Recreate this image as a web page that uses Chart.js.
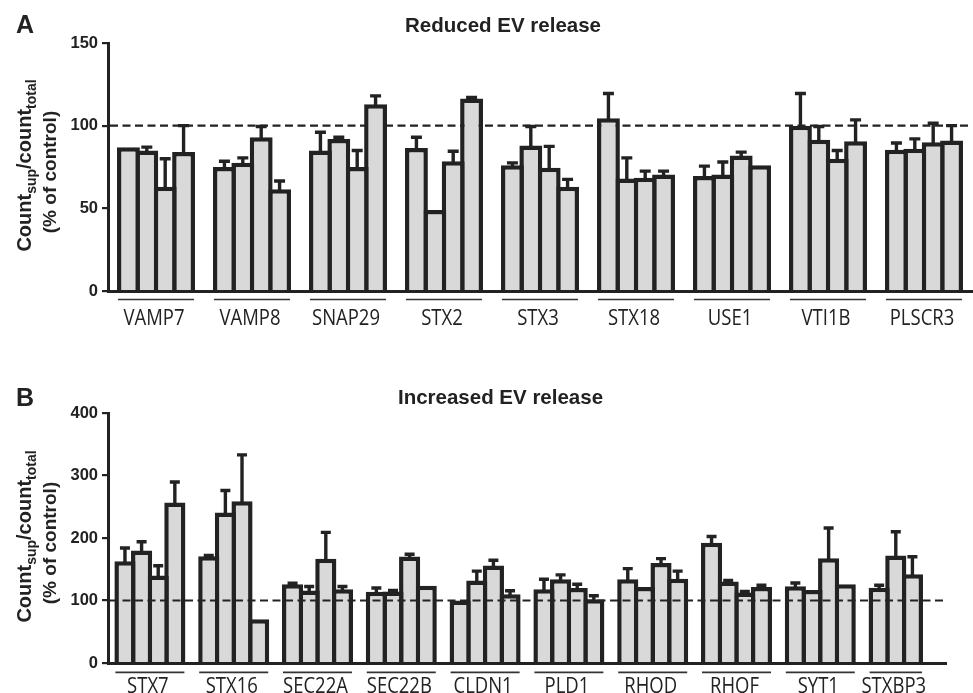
<!DOCTYPE html>
<html><head><meta charset="utf-8">
<script src="https://cdn.jsdelivr.net/npm/chart.js@4.4.1/dist/chart.umd.min.js"></script>
<style>
html,body{margin:0;padding:0;background:#fff;}
#wrap{position:relative;width:973px;height:693px;overflow:hidden;background:#fff;}
#cA{position:absolute;left:0;top:0;}
#cB{position:absolute;left:0;top:340px;}
</style></head><body>
<div id="wrap"><canvas id="cA" width="973" height="340"></canvas><canvas id="cB" width="973" height="353"></canvas></div>
<script>
// ---------- Panel A data ----------
const genesA = ['VAMP7','VAMP8','SNAP29','STX2','STX3','STX18','USE1','VTI1B','PLSCR3'];
const meanA1 = [87, 75, 85, 86.5, 76, 104.5, 69.5, 100, 85.5];
const meanA2 = [85, 77.5, 92, 49, 88, 68, 70.5, 91.5, 86];
const meanA3 = [63, 93, 75, 78.5, 74.5, 68.5, 82, 80, 90];
const meanA4 = [84, 61.5, 113, 116.5, 63, 70.5, 76, 90.5, 91];
const errA1 = [0, 3.5, 11, 6.5, 1.5, 15, 6, 19.5, 4];
const errA2 = [2, 3, 1, 0, 11.5, 12.5, 7.5, 8, 6];
const errA3 = [17, 6.5, 10, 6, 13, 4, 2, 5, 11.5];
const errA4 = [16, 5, 5, 0.5, 4.5, 2, 0, 13, 9];
const ticksA = [0, 50, 100, 150];
const titleA = 'Reduced EV release';

// ---------- Panel B data ----------
const genesB = ['STX7','STX16','SEC22A','SEC22B','CLDN1','PLD1','RHOD','RHOF','SYT1','STXBP3'];
const meanB1 = [163, 171, 126, 114, 100, 118, 134, 192.5, 123, 120.5];
const meanB2 = [180, 241, 116, 114.5, 132, 134, 121.5, 130.5, 117, 172];
const meanB3 = [140, 259, 167, 170.5, 156, 120, 160, 113, 167.5, 142];
const meanB4 = [257, 70, 118, 123.5, 110, 102, 135, 121.5, 126, null];
const errB1 = [21, 1, 1.5, 6, 0, 16, 17, 10, 5, 4];
const errB2 = [14, 35, 6.5, 1.5, 15, 7, 0, 1.5, 0, 38];
const errB3 = [15.5, 74, 42, 3.5, 8.5, 6, 7, 1.5, 48.5, 28];
const errB4 = [32.5, 0, 4.5, 0, 5.5, 5.5, 12, 3, 0, null];
const ticksB = [0, 100, 200, 300, 400];
const titleB = 'Increased EV release';

const refLine = 100;

const INK = '#222222';
const FILL = '#d9d9d9';

function decoPlugin(cfg) {
  function dashed(chart) {
    const {ctx, chartArea, scales} = chart;
    const y = scales.y.getPixelForValue(refLine);
    ctx.save();
    ctx.strokeStyle = INK; ctx.lineWidth = 2.2; ctx.setLineDash([8, 4.5]);
    ctx.beginPath(); ctx.moveTo(chartArea.left + 2, y); ctx.lineTo(chartArea.right, y); ctx.stroke();
    ctx.restore();
  }
  return {
    id: 'deco',
    beforeDatasetsDraw(chart) { if (!cfg.dashOnTop) dashed(chart); },
    afterDatasetsDraw(chart) {
      const {ctx, scales, chartArea} = chart;
      const ys = scales.y;
      if (cfg.dashOnTop) dashed(chart);
      // error bars (upper only)
      ctx.save();
      ctx.strokeStyle = INK; ctx.lineWidth = 3.4; ctx.lineCap = 'butt';
      chart.data.datasets.forEach((ds, d) => {
        const meta = chart.getDatasetMeta(d);
        const errs = cfg.errs[d];
        meta.data.forEach((el, i) => {
          const v = ds.data[i], e = errs[i];
          if (v == null || !e) return;
          const yTop = ys.getPixelForValue(v + e);
          ctx.beginPath();
          ctx.moveTo(el.x, el.y + 2); ctx.lineTo(el.x, yTop);
          ctx.moveTo(el.x - cfg.capW / 2, yTop); ctx.lineTo(el.x + cfg.capW / 2, yTop);
          ctx.stroke();
        });
      });
      ctx.restore();
      // group underlines and labels
      ctx.save();
      const labels = chart.data.labels;
      labels.forEach((lab, i) => {
        let left = Infinity, right = -Infinity;
        chart.data.datasets.forEach((ds, d) => {
          if (ds.data[i] == null) return;
          const el = chart.getDatasetMeta(d).data[i];
          left = Math.min(left, el.x - el.width / 2);
          right = Math.max(right, el.x + el.width / 2);
        });
        const uy = chartArea.bottom + cfg.ulOff;
        ctx.strokeStyle = '#333'; ctx.lineWidth = 1.6;
        ctx.beginPath(); ctx.moveTo(left + 1, uy); ctx.lineTo(right - 1, uy); ctx.stroke();
        ctx.save();
        ctx.translate((left + right) / 2 - 2, chartArea.bottom + cfg.labOff);
        ctx.scale(0.88, 1);
        ctx.fillStyle = INK; ctx.font = '21px "Open Sans"'; ctx.textAlign = 'center'; ctx.textBaseline = 'alphabetic';
        ctx.fillText(lab, 0, 0);
        ctx.restore();
      });
      ctx.restore();
    },
    afterDraw(chart) {
      const {ctx, chartArea} = chart;
      ctx.save();
      ctx.fillStyle = INK;
      // panel letter
      ctx.font = 'bold 25px "Liberation Sans", Arial, sans-serif';
      ctx.textAlign = 'left'; ctx.textBaseline = 'alphabetic';
      ctx.fillText(cfg.letter, 16, cfg.letterY);
      // title
      ctx.font = 'bold 20.5px "Liberation Sans", Arial, sans-serif';
      ctx.textAlign = 'center';
      ctx.fillText(cfg.title, cfg.titleX, cfg.titleY);
      // y axis title with subscripts
      const mid = (chartArea.top + chartArea.bottom) / 2;
      const parts = [['Count', 20, 0], ['sup', 14, 5], ['/count', 20, 0], ['total', 14, 5]];
      let total = 0;
      parts.forEach(p => { ctx.font = 'bold ' + p[1] + 'px "Liberation Sans", Arial, sans-serif'; p.push(ctx.measureText(p[0]).width); total += p[3]; });
      ctx.save();
      ctx.translate(31, mid - 1.5); ctx.rotate(-Math.PI / 2);
      ctx.textAlign = 'left';
      let x = -total / 2;
      parts.forEach(p => { ctx.font = 'bold ' + p[1] + 'px "Liberation Sans", Arial, sans-serif'; ctx.fillText(p[0], x, p[2]); x += p[3]; });
      ctx.restore();
      ctx.save();
      ctx.translate(56, mid + 5); ctx.rotate(-Math.PI / 2);
      ctx.font = 'bold 19px "Liberation Sans", Arial, sans-serif'; ctx.textAlign = 'center';
      ctx.fillText('(% of control)', 0, 0);
      ctx.restore();
      ctx.restore();
    }
  };
}

function makeChart(id, labels, means, errs, ticks, cfg) {
  const datasets = means.map(m => ({
    data: m, backgroundColor: FILL, borderColor: INK, borderWidth: 4.5,
    categoryPercentage: cfg.catPct, barPercentage: cfg.barPct
  }));
  return new Chart(document.getElementById(id), {
    type: 'bar',
    data: { labels, datasets },
    options: {
      responsive: false, animation: false, devicePixelRatio: 1,
      layout: { padding: { top: cfg.top, right: cfg.padRight, left: 0, bottom: 0 } },
      plugins: { legend: { display: false }, tooltip: { enabled: false }, title: { display: false } },
      scales: {
        x: {
          offset: true,
          grid: { display: false, drawTicks: false },
          border: { display: true, color: INK, width: 3 },
          ticks: { display: false },
          afterFit(s) { s.height = cfg.xH; }
        },
        y: {
          min: ticks[0], max: ticks[ticks.length - 1],
          afterBuildTicks(s) { s.ticks = ticks.map(v => ({ value: v })); },
          grid: { display: true, drawOnChartArea: false, drawTicks: true, tickLength: 6, color: INK, lineWidth: 2.2 },
          border: { display: true, color: INK, width: 3 },
          ticks: { color: INK, padding: 4, font: { family: '"Liberation Sans", Arial, sans-serif', size: 16.5, weight: 'bold' } },
          afterFit(s) { s.width = 108; }
        }
      }
    },
    plugins: [decoPlugin(Object.assign({ errs }, cfg))]
  });
}

makeChart('cA', genesA, [meanA1, meanA2, meanA3, meanA4], [errA1, errA2, errA3, errA4], ticksA, {
  top: 43, padRight: 1, xH: 49, catPct: 0.766, barPct: 1.245, capW: 11,
  ulOff: 8.5, labOff: 34, dashOnTop: false,
  letter: 'A', letterY: 33, title: titleA, titleX: 503, titleY: 31.5
});
makeChart('cB', genesB, [meanB1, meanB2, meanB3, meanB4], [errB1, errB2, errB3, errB4], ticksB, {
  top: 73, padRight: 27, xH: 30, catPct: 0.7936, barPct: 1.271, capW: 10,
  ulOff: 9.4, labOff: 29.5, dashOnTop: true,
  letter: 'B', letterY: 66, title: titleB, titleX: 500.5, titleY: 64
});
</script>
</body></html>
